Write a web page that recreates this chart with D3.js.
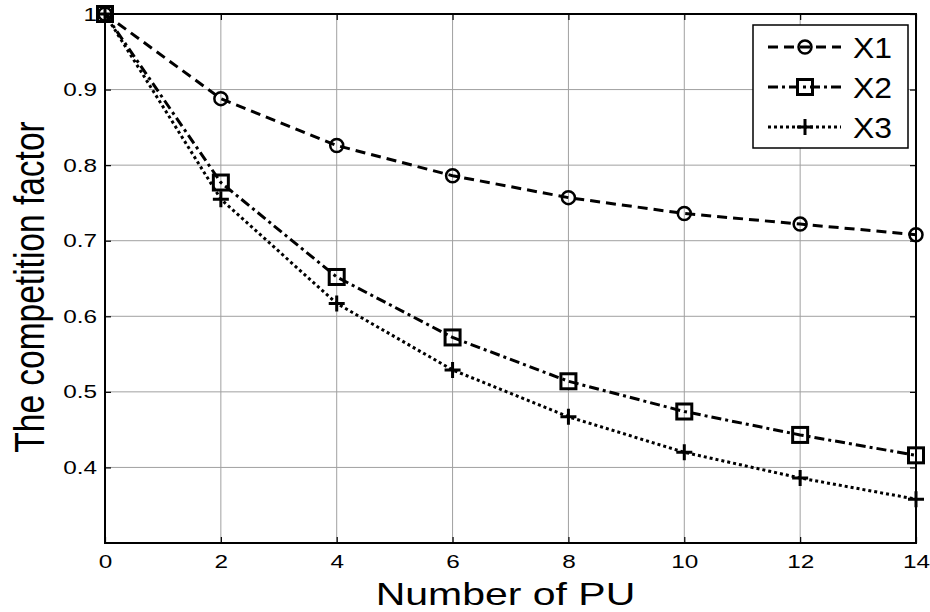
<!DOCTYPE html>
<meta charset="utf-8">
<head>
  <script src="https://d3js.org/d3.v7.min.js"></script>
  <style>
    body { margin: 0; background: #fff; }
    text { font-family: "Liberation Sans", Arial, sans-serif; fill: #000; }
  </style>
</head>
<body>
  <div id="my_dataviz"></div>
</body>
<script>
  // data
  var puCounts = [0, 2, 4, 6, 8, 10, 12, 14];
  var x1Values = [1, 0.888, 0.826, 0.786, 0.757, 0.736, 0.722, 0.708];
  var x2Values = [1, 0.777, 0.652, 0.572, 0.514, 0.474, 0.443, 0.416];
  var x3Values = [1, 0.755, 0.617, 0.529, 0.467, 0.420, 0.386, 0.358];
  var seriesNames = ["X1", "X2", "X3"];
  var xTicks = [0, 2, 4, 6, 8, 10, 12, 14];
  var yTicks = [0.4, 0.5, 0.6, 0.7, 0.8, 0.9, 1];

  var margin = { top: 14, right: 14, bottom: 69, left: 105 },
    width = 930 - margin.left - margin.right,
    height = 612 - margin.top - margin.bottom;

  var svg = d3.select("#my_dataviz")
    .append("svg")
    .attr("width", 930)
    .attr("height", 612)
    .append("g")
    .attr("transform", "translate(" + margin.left + "," + margin.top + ")");

  // the original text is a bit wider than Liberation Sans
  function stretch(sel, f) {
    sel.each(function () {
      var w = this.getComputedTextLength();
      d3.select(this).attr("textLength", w * f).attr("lengthAdjust", "spacingAndGlyphs");
    });
  }

  var x = d3.scaleLinear().domain([0, 14]).range([0, width]);
  var y = d3.scaleLinear().domain([0.3, 1]).range([height, 0]);

  // grid
  svg.append("g").selectAll("line")
    .data(xTicks.slice(1, -1)).enter().append("line")
    .attr("x1", d => x(d)).attr("x2", d => x(d))
    .attr("y1", 0).attr("y2", height)
    .attr("stroke", "#a0a0a0").attr("stroke-width", 1);
  svg.append("g").selectAll("line")
    .data(yTicks.slice(0, -1)).enter().append("line")
    .attr("x1", 0).attr("x2", width)
    .attr("y1", d => y(d)).attr("y2", d => y(d))
    .attr("stroke", "#a0a0a0").attr("stroke-width", 1);

  // axes (MATLAB style inward ticks)
  var tk = 6;
  svg.append("g")
    .attr("transform", "translate(0," + height + ")")
    .call(d3.axisBottom(x).tickValues(xTicks).tickSize(-tk).tickPadding(12).tickFormat(d3.format("d")))
    .call(g => g.select(".domain").remove())
    .selectAll("text").style("font-size", "19px").call(stretch, 1.28);
  svg.append("g")
    .call(d3.axisTop(x).tickValues(xTicks).tickSize(-tk).tickFormat(""))
    .call(g => g.select(".domain").remove());
  svg.append("g")
    .call(d3.axisLeft(y).tickValues(yTicks).tickSize(-tk).tickPadding(8).tickFormat(d => d === 1 ? "1" : d3.format(".1f")(d)))
    .call(g => g.select(".domain").remove())
    .selectAll("text").style("font-size", "19px").call(stretch, 1.28);
  svg.append("g")
    .attr("transform", "translate(" + width + ",0)")
    .call(d3.axisRight(y).tickValues(yTicks).tickSize(-tk).tickFormat(""))
    .call(g => g.select(".domain").remove());
  svg.selectAll(".tick line").attr("stroke", "#000").attr("stroke-width", 1.2);

  svg.append("rect")
    .attr("x", 0).attr("y", 0).attr("width", width).attr("height", height)
    .attr("fill", "none").attr("stroke", "#000").attr("stroke-width", 2);

  var series = [
    { name: seriesNames[0], values: x1Values, dash: "10,6", marker: "circle" },
    { name: seriesNames[1], values: x2Values, dash: "10,4,3,4", marker: "square" },
    { name: seriesNames[2], values: x3Values, dash: "3,3", marker: "plus" }
  ];

  var line = d3.line().x((d, i) => x(puCounts[i])).y(d => y(d));

  function drawMarker(g, type, cx, cy) {
    if (type === "circle") {
      g.append("circle").attr("cx", cx).attr("cy", cy).attr("r", 6.5)
        .attr("fill", "none").attr("stroke", "#000").attr("stroke-width", 2.5);
    } else if (type === "square") {
      g.append("rect").attr("x", cx - 7.5).attr("y", cy - 7.5).attr("width", 15).attr("height", 15)
        .attr("fill", "none").attr("stroke", "#000").attr("stroke-width", 3);
    } else {
      g.append("path").attr("d", "M" + (cx - 8) + "," + cy + "H" + (cx + 8) + "M" + cx + "," + (cy - 8) + "V" + (cy + 8))
        .attr("stroke", "#000").attr("stroke-width", 3);
    }
  }

  series.forEach(function (s) {
    svg.append("path")
      .datum(s.values)
      .attr("d", line)
      .attr("fill", "none")
      .attr("stroke", "#000")
      .attr("stroke-width", 3)
      .attr("stroke-dasharray", s.dash);
    var mg = svg.append("g");
    s.values.forEach(function (v, i) { drawMarker(mg, s.marker, x(puCounts[i]), y(v)); });
  });

  // legend
  var lg = svg.append("g").attr("transform", "translate(" + (753 - margin.left) + "," + (25 - margin.top) + ")");
  lg.append("rect").attr("width", 155).attr("height", 123)
    .attr("fill", "#fff").attr("stroke", "#000").attr("stroke-width", 1.5);
  series.forEach(function (s, i) {
    var ry = 22 + i * 40;
    lg.append("line").attr("x1", 15).attr("x2", 88).attr("y1", ry).attr("y2", ry)
      .attr("stroke", "#000").attr("stroke-width", 3).attr("stroke-dasharray", s.dash);
    drawMarker(lg, s.marker, 52, ry);
    lg.append("text").attr("x", 100).attr("y", ry + 11).style("font-size", "29px").text(s.name)
      .call(stretch, 1.1);
  });

  // axis labels
  svg.append("text")
    .attr("x", width / 2 - 5).attr("y", height + 62)
    .attr("text-anchor", "middle").style("font-size", "32px")
    .text("Number of PU")
    .call(stretch, 1.28);
  svg.append("text")
    .attr("transform", "translate(-61.5,273)scale(1.28,1)rotate(-90)")
    .attr("text-anchor", "middle").style("font-size", "33.5px")
    .text("The competition factor");
</script>
